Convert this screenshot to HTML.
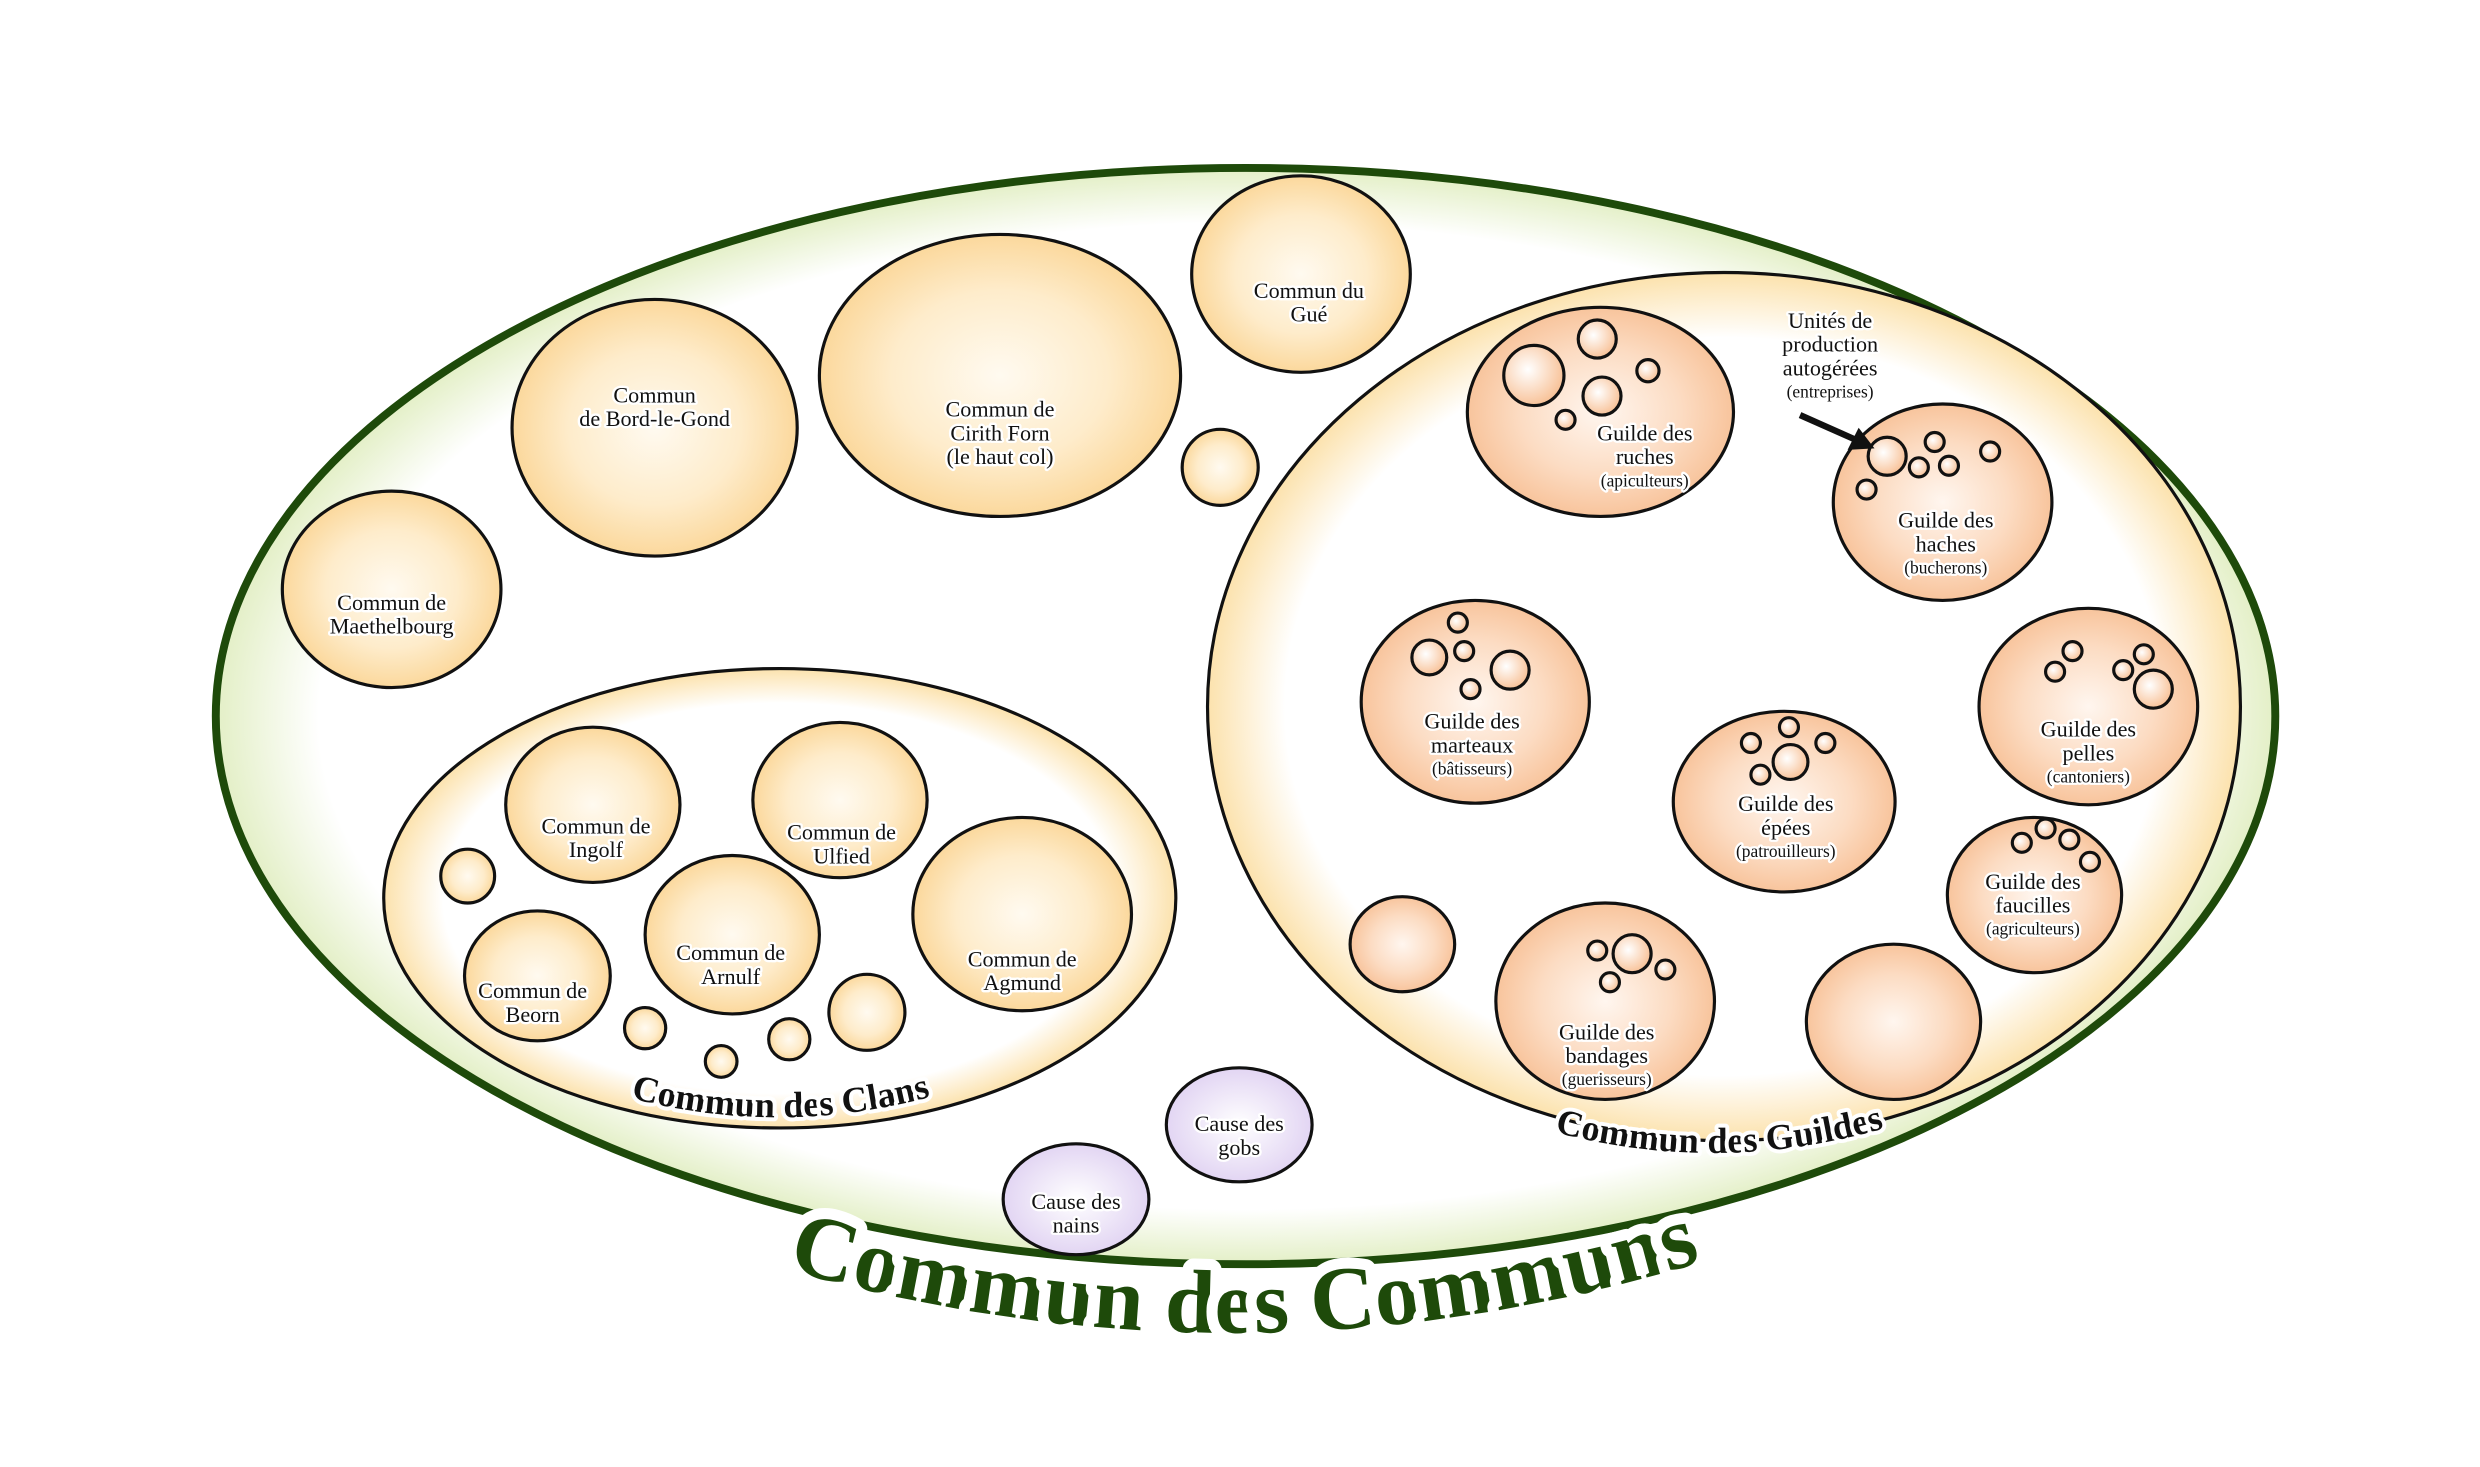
<!DOCTYPE html>
<html><head><meta charset="utf-8"><style>
html,body{margin:0;padding:0;background:#fff}
svg{display:block}
text{font-family:"Liberation Serif",serif;fill:#111;text-anchor:middle}
.h{paint-order:stroke;stroke:#fff;stroke-width:3px;stroke-linejoin:round}
</style></head><body>
<svg width="2480" height="1467" viewBox="0 0 1565 926" xmlns="http://www.w3.org/2000/svg">
<defs>
<radialGradient id="gBig" cx="50%" cy="50%" r="50%">
<stop offset="0.9" stop-color="#fff"/><stop offset="1" stop-color="#e3efc6"/></radialGradient>
<radialGradient id="gY" cx="50%" cy="50%" r="50%">
<stop offset="0.85" stop-color="#fff"/><stop offset="1" stop-color="#fce2ad"/></radialGradient>
<radialGradient id="gC" cx="50%" cy="50%" r="50%">
<stop offset="0" stop-color="#fffaf0"/><stop offset="0.6" stop-color="#feeccb"/><stop offset="1" stop-color="#fbd89c"/></radialGradient>
<radialGradient id="gO" cx="50%" cy="50%" r="50%">
<stop offset="0" stop-color="#fff6ef"/><stop offset="0.6" stop-color="#fcdcc3"/><stop offset="1" stop-color="#f8c49c"/></radialGradient>
<radialGradient id="gP" cx="50%" cy="50%" r="50%">
<stop offset="0" stop-color="#fff"/><stop offset="1" stop-color="#e2d5f3"/></radialGradient>
<radialGradient id="gS" cx="40%" cy="40%" r="60%">
<stop offset="0" stop-color="#fff"/><stop offset="1" stop-color="#f8c39a"/></radialGradient>
<path id="pCom" d="M 460 790 Q 785 895 1110 785"/>
<path id="pCl" d="M 365 683 Q 492 728 620 682"/>
<path id="pGu" d="M 950 705 Q 1085 752 1220 702"/>
</defs>

<ellipse cx="786" cy="452" rx="650" ry="346" fill="url(#gBig)" stroke="#1e4a0a" stroke-width="5"/>
<ellipse cx="1088" cy="446" rx="326" ry="274" fill="url(#gY)" stroke="#111" stroke-width="2"/>
<ellipse cx="492" cy="567" rx="250" ry="145" fill="url(#gY)" stroke="#111" stroke-width="2"/>

<g fill="url(#gC)" stroke="#111" stroke-width="2">
<ellipse cx="247" cy="372" rx="69" ry="62"/>
<ellipse cx="413" cy="270" rx="90" ry="81"/>
<ellipse cx="631" cy="237" rx="114" ry="89"/>
<ellipse cx="821" cy="173" rx="69" ry="62"/>
<ellipse cx="770" cy="295" rx="24" ry="24"/>
<ellipse cx="374" cy="508" rx="55" ry="49"/>
<ellipse cx="530" cy="505" rx="55" ry="49"/>
<ellipse cx="462" cy="590" rx="55" ry="50"/>
<ellipse cx="645" cy="577" rx="69" ry="61"/>
<ellipse cx="339" cy="616" rx="46" ry="41"/>
<ellipse cx="295" cy="553" rx="17" ry="17"/>
<ellipse cx="407" cy="649" rx="13" ry="13"/>
<ellipse cx="455" cy="670" rx="10" ry="10"/>
<ellipse cx="498" cy="656" rx="13" ry="13"/>
<ellipse cx="547" cy="639" rx="24" ry="24"/>
</g>
<g fill="url(#gP)" stroke="#111" stroke-width="2">
<ellipse cx="782" cy="710" rx="46" ry="36"/>
<ellipse cx="679" cy="757" rx="46" ry="35"/>
</g>
<g fill="url(#gO)" stroke="#111" stroke-width="2">
<ellipse cx="1010" cy="260" rx="84" ry="66"/>
<ellipse cx="1226" cy="317" rx="69" ry="62"/>
<ellipse cx="931" cy="443" rx="72" ry="64"/>
<ellipse cx="1126" cy="506" rx="70" ry="57"/>
<ellipse cx="1318" cy="446" rx="69" ry="62"/>
<ellipse cx="1284" cy="565" rx="55" ry="49"/>
<ellipse cx="1013" cy="632" rx="69" ry="62"/>
<ellipse cx="885" cy="596" rx="33" ry="30"/>
<ellipse cx="1195" cy="645" rx="55" ry="49"/>
</g>
<g fill="url(#gS)" stroke="#111" stroke-width="2">
<circle cx="968" cy="237" r="19"/><circle cx="1008" cy="214" r="12"/><circle cx="1011" cy="250" r="12"/><circle cx="1040" cy="234" r="7"/><circle cx="988" cy="265" r="6"/>
<circle cx="1191" cy="288" r="12"/><circle cx="1221" cy="279" r="6"/><circle cx="1211" cy="295" r="6"/><circle cx="1230" cy="294" r="6"/><circle cx="1256" cy="285" r="6"/><circle cx="1178" cy="309" r="6"/>
<circle cx="920" cy="393" r="6"/><circle cx="902" cy="415" r="11"/><circle cx="924" cy="411" r="6"/><circle cx="953" cy="423" r="12"/><circle cx="928" cy="435" r="6"/>
<circle cx="1105" cy="469" r="6"/><circle cx="1129" cy="459" r="6"/><circle cx="1152" cy="469" r="6"/><circle cx="1130" cy="481" r="11"/><circle cx="1111" cy="489" r="6"/>
<circle cx="1308" cy="411" r="6"/><circle cx="1297" cy="424" r="6"/><circle cx="1353" cy="413" r="6"/><circle cx="1340" cy="423" r="6"/><circle cx="1359" cy="435" r="12"/>
<circle cx="1276" cy="532" r="6"/><circle cx="1291" cy="523" r="6"/><circle cx="1306" cy="530" r="6"/><circle cx="1319" cy="544" r="6"/>
<circle cx="1008" cy="600" r="6"/><circle cx="1030" cy="602" r="12"/><circle cx="1016" cy="620" r="6"/><circle cx="1051" cy="612" r="6"/>
</g>

<line x1="1136" y1="262" x2="1172" y2="278" stroke="#111" stroke-width="4"/>
<polygon points="1183,283 1166,284 1173,270" fill="#111"/>

<g font-size="14">
<text x="247" y="385" class="h">Commun de<tspan x="247" dy="15">Maethelbourg</tspan></text>
<text x="413" y="254" class="h">Commun<tspan x="413" dy="15">de Bord-le-Gond</tspan></text>
<text x="631" y="263" class="h">Commun de<tspan x="631" dy="15">Cirith Forn</tspan><tspan x="631" dy="15">(le haut col)</tspan></text>
<text x="826" y="188" class="h">Commun du<tspan x="826" dy="15">Gué</tspan></text>
<text x="376" y="526" class="h">Commun de<tspan x="376" dy="15">Ingolf</tspan></text>
<text x="531" y="530" class="h">Commun de<tspan x="531" dy="15">Ulfied</tspan></text>
<text x="461" y="606" class="h">Commun de<tspan x="461" dy="15">Arnulf</tspan></text>
<text x="645" y="610" class="h">Commun de<tspan x="645" dy="15">Agmund</tspan></text>
<text x="336" y="630" class="h">Commun de<tspan x="336" dy="15">Beorn</tspan></text>
<text x="782" y="714" class="h">Cause des<tspan x="782" dy="15">gobs</tspan></text>
<text x="679" y="763" class="h">Cause des<tspan x="679" dy="15">nains</tspan></text>
<text x="1155" y="207" class="h">Unités de<tspan x="1155" dy="15">production</tspan><tspan x="1155" dy="15">autogérées</tspan><tspan x="1155" dy="14" font-size="11">(entreprises)</tspan></text>
<text x="1038" y="278" class="h">Guilde des<tspan x="1038" dy="15">ruches</tspan><tspan x="1038" dy="14" font-size="11">(apiculteurs)</tspan></text>
<text x="1228" y="333" class="h">Guilde des<tspan x="1228" dy="15">haches</tspan><tspan x="1228" dy="14" font-size="11">(bucherons)</tspan></text>
<text x="929" y="460" class="h">Guilde des<tspan x="929" dy="15">marteaux</tspan><tspan x="929" dy="14" font-size="11">(bâtisseurs)</tspan></text>
<text x="1127" y="512" class="h">Guilde des<tspan x="1127" dy="15">épées</tspan><tspan x="1127" dy="14" font-size="11">(patrouilleurs)</tspan></text>
<text x="1318" y="465" class="h">Guilde des<tspan x="1318" dy="15">pelles</tspan><tspan x="1318" dy="14" font-size="11">(cantoniers)</tspan></text>
<text x="1283" y="561" class="h">Guilde des<tspan x="1283" dy="15">faucilles</tspan><tspan x="1283" dy="14" font-size="11">(agriculteurs)</tspan></text>
<text x="1014" y="656" class="h">Guilde des<tspan x="1014" dy="15">bandages</tspan><tspan x="1014" dy="14" font-size="11">(guerisseurs)</tspan></text>
</g>

<text font-size="23" font-weight="bold" class="h" style="stroke-width:5px"><textPath href="#pCl" startOffset="50%">Commun des Clans</textPath></text>
<text font-size="23" font-weight="bold" class="h" style="stroke-width:5px"><textPath href="#pGu" startOffset="50%">Commun des Guildes</textPath></text>
<text font-size="57" font-weight="bold" class="h" style="fill:#1e4a0a;stroke-width:14px"><textPath href="#pCom" startOffset="50%">Commun des Communs</textPath></text>
</svg>
</body></html>
